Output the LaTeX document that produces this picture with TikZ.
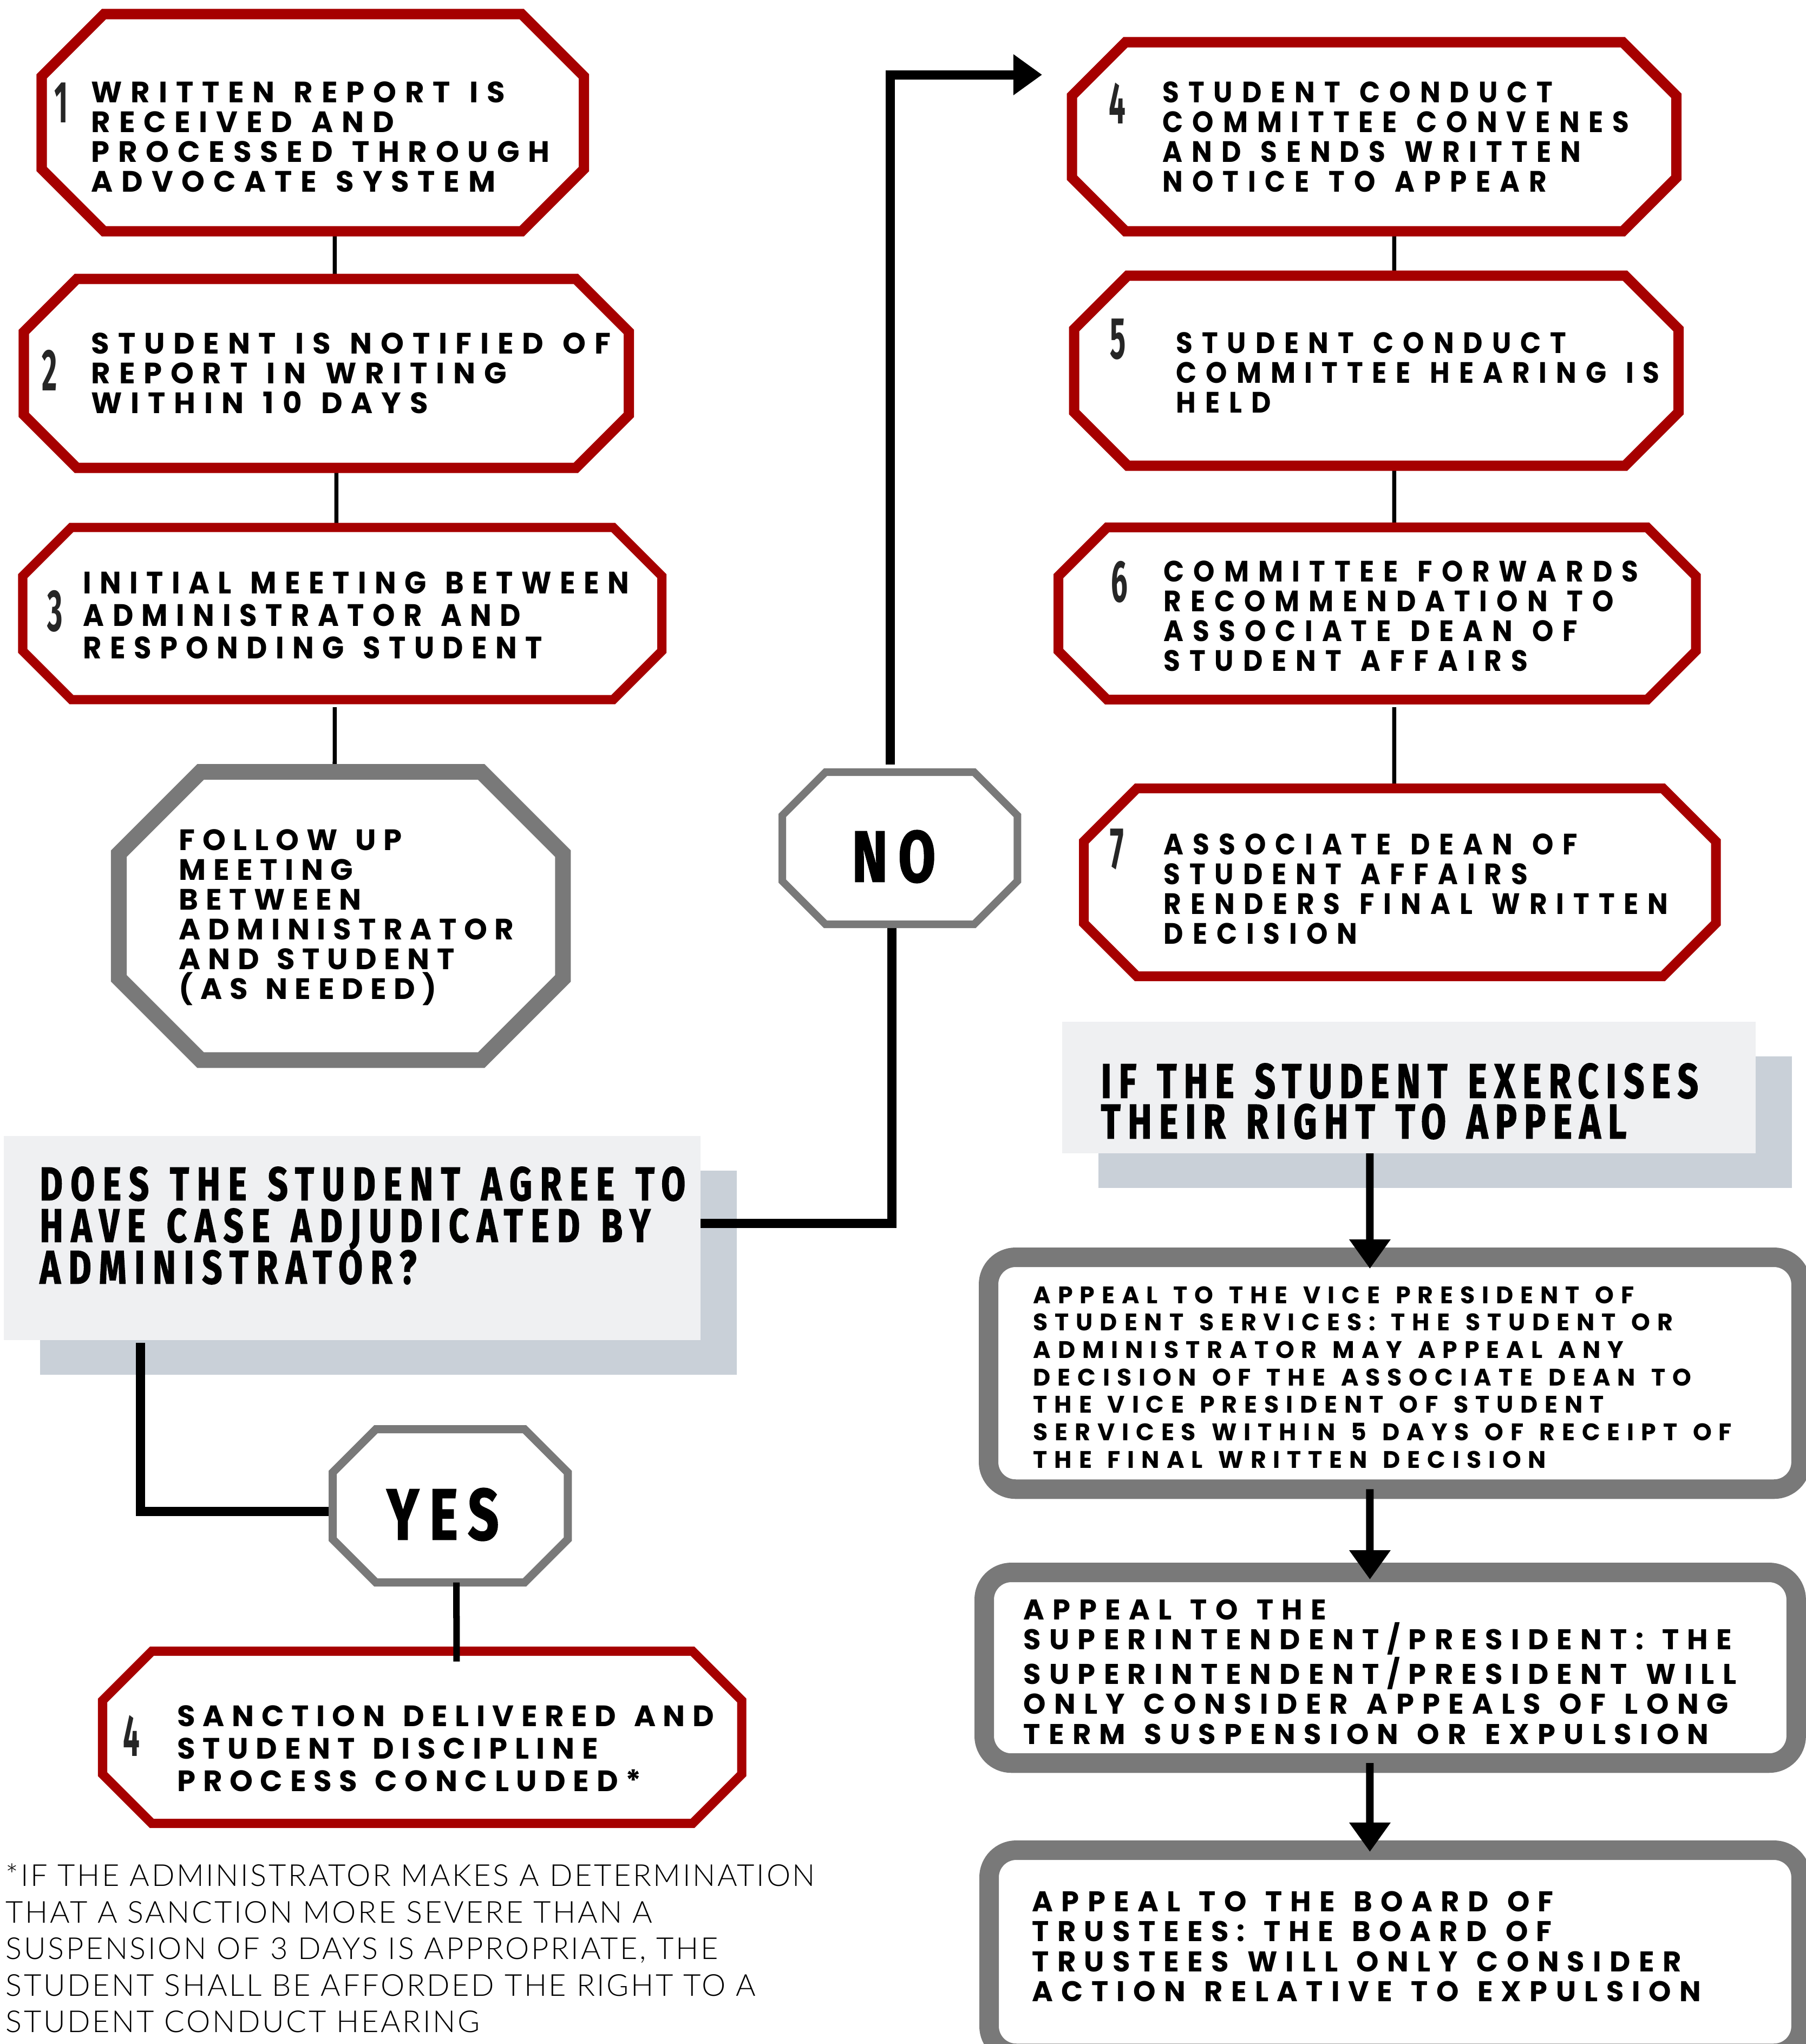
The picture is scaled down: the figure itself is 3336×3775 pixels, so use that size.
\documentclass[tikz,border=0pt]{standalone}
\usepackage{fontspec}
\usetikzlibrary{calc, arrows.meta, shadows}
\setmainfont{Poppins}
\newfontfamily\boxfont{Poppins}[LetterSpace=29, WordSpace=1.3]
\newfontfamily\narrowfont{Poppins}[FakeStretch=0.92, LetterSpace=31, WordSpace=1.3]
\newfontfamily\headfont{Fira Sans}[FakeStretch=0.74, FakeBold=1.6, LetterSpace=15, WordSpace=1.3]
\newfontfamily\numfont{Fira Sans}[FakeStretch=0.5]
\IfFontExistsTF{Lato Light}
  {\newfontfamily\notefont{Lato Light}[LetterSpace=6.5]}
  {\newfontfamily\notefont{Lato}[LetterSpace=6.5]}

\definecolor{stepred}{HTML}{A60000}
\definecolor{stepgray}{HTML}{797979}
\definecolor{qfill}{HTML}{EFF0F2}
\definecolor{qshade}{HTML}{C9D0D8}
\definecolor{numgray}{HTML}{262626}

% chamfered outline round a frame node: node, chamfer, style
\newcommand{\octline}[3]{%
  \draw[#3] ($(#1.north west)+(#2,0)$) -- ($(#1.north east)+(-#2,0)$)
    -- ($(#1.north east)+(0,#2)$) -- ($(#1.south east)+(0,-#2)$)
    -- ($(#1.south east)+(-#2,0)$) -- ($(#1.south west)+(#2,0)$)
    -- ($(#1.south west)+(0,-#2)$) -- ($(#1.north west)+(0,#2)$) -- cycle;}

\begin{document}
\begin{tikzpicture}[x=0.01cm, y=-0.01cm]

    % Setup the styles
    \tikzset{frame/.style={inner sep=0, outer sep=0, anchor=north west},
             redline/.style={draw=stepred, fill=white, line width=0.19cm, line join=miter},
             grayline/.style={draw=stepgray, fill=white, line join=miter},
             qbox/.style={frame, fill=qfill,
                          general shadow={fill=qshade, shadow xshift=.67cm, shadow yshift=-.64cm}},
             appeal/.style={frame, draw=stepgray, line width=0.36cm, rounded corners=0.5cm},
             link/.style={line width=0.075cm},
             bold link/.style={line width=0.17cm},
             arrow link/.style={line width=0.14cm, -{Triangle[length=0.54cm, width=0.73cm]}},
             steptext/.style={inner sep=0, anchor=north west, align=left,
                              font={\boxfont\bfseries\fontsize{15.5}{15.65}\selectfont}},
             righttext/.style={steptext, font={\narrowfont\bfseries\fontsize{15.5}{15.65}\selectfont}},
             appealtext/.style={steptext, font={\boxfont\bfseries\fontsize{15}{15.8}\selectfont}},
             headtext/.style={steptext, font={\headfont\bfseries\fontsize{24.8}{21.9}\selectfont}},
             answer/.style={inner sep=0, font={\headfont\bfseries\fontsize{38}{38}\selectfont}},
             stepnum/.style={inner sep=0, anchor=north west, text=numgray,
                             font={\numfont\bfseries\fontsize{31}{31}\selectfont}}}

    \useasboundingbox (0,0) rectangle (3336,3775);

    % Frames of the boxes
    \node[frame, minimum width=10.01cm, minimum height=4.01cm] at (77,26)     (s1)   {};
    \node[frame, minimum width=11.17cm, minimum height=3.49cm] at (44,515)    (s2)   {};
    \node[frame, minimum width=11.80cm, minimum height=3.18cm] at (42,974)    (s3)   {};
    \node[frame, minimum width=8.20cm,  minimum height=5.32cm] at (219.5,1425.5) (follow) {};
    \node[frame, minimum width=4.34cm,  minimum height=2.81cm] at (1445,1426) (no)   {};
    \node[frame, minimum width=4.34cm,  minimum height=2.83cm] at (614.5,2639.5) (yes) {};
    \node[frame, minimum width=11.80cm, minimum height=3.18cm] at (189.5,3049.5) (sanction) {};
    \node[frame, minimum width=11.16cm, minimum height=3.49cm] at (1980,78)   (s4)   {};
    \node[frame, minimum width=11.16cm, minimum height=3.51cm] at (1984,509)  (s5)   {};
    \node[frame, minimum width=11.77cm, minimum height=3.18cm] at (1955,974)  (s6)   {};
    \node[frame, minimum width=11.67cm, minimum height=3.47cm] at (2002,1456) (s7)   {};

    % Question and appeal boxes
    \node[qbox, minimum width=12.86cm, minimum height=3.77cm] at (7,2098)    (agree)  {};
    \node[qbox, minimum width=12.80cm, minimum height=2.43cm] at (1962,1887) (right)  {};
    \node[appeal, minimum width=15.00cm, minimum height=4.28cm] at (1826,2322) (vp)    {};
    \node[appeal, minimum width=14.99cm, minimum height=3.52cm] at (1818,2904) (super) {};
    \node[appeal, minimum width=14.99cm, minimum height=3.75cm] at (1827,3417) (board) {};

    % Connect the boxes
    \draw[link] ([xshift=.405cm]s1.south) -- ([xshift=.155cm]s2.north);
    \draw[link] ([xshift=.185cm]s2.south) -- ([xshift=-.11cm]s3.north);
    \draw[link, shorten <=.14cm] ([xshift=-.14cm]s3.south) -- ([xshift=-.115cm]follow.north);
    \draw[link] ([xshift=.37cm]s4.south) -- ([xshift=.33cm]s5.north);
    \draw[link] ([xshift=.33cm]s5.south) -- ([xshift=.315cm]s6.north);
    \draw[link, shorten <=.14cm] ([xshift=.315cm]s6.south) -- ([xshift=-.105cm]s7.north);

    \draw[bold link] ([yshift=.275cm]agree.east) -| ([xshift=-.15cm]no.south);
    \draw[bold link, shorten <=.14cm, -{Triangle[length=0.53cm, width=0.72cm]}]
        ([xshift=-.18cm]no.north) |- ([xshift=-.55cm, yshift=1.145cm]s4.west);
    \draw[bold link] ([xshift=-3.91cm, yshift=-.05cm]agree.south) |- ([yshift=-.1cm]yes.west);

    % Outlines
    \octline{s1}{115}{redline}
    \octline{s2}{98}{redline}
    \octline{s3}{90}{redline, line width=0.17cm}
    \octline{follow}{151}{grayline, line width=0.29cm}
    \octline{no}{80}{grayline, line width=0.14cm}
    \octline{yes}{80}{grayline, line width=0.15cm}
    \octline{sanction}{91}{redline, line width=0.17cm}
    \octline{s4}{99}{redline}
    \octline{s5}{99}{redline}
    \octline{s6}{90}{redline, line width=0.18cm}
    \octline{s7}{98}{redline, line width=0.18cm}

    \draw[link, line width=0.12cm] ([xshift=.115cm]yes.south) -- ([xshift=.635cm, yshift=-.19cm]sanction.north);
    \draw[arrow link] ([xshift=-.72cm]right.south) -- ([xshift=-.46cm, yshift=-.21cm]vp.north);
    \draw[arrow link] ([xshift=-.46cm]vp.south) -- ([xshift=-.375cm, yshift=-.13cm]super.north);
    \draw[arrow link] ([xshift=-.375cm]super.south) -- ([xshift=-.465cm, yshift=-.03cm]board.north);

    % Numbers
    \node[stepnum] at (100,152)  (n1) {1};
    \node[stepnum] at (77,646)   (n2) {2};
    \node[stepnum] at (87,1090)  (n3) {3};
    \node[stepnum] at (227,3167) (n4a) {4};
    \node[stepnum] at (2048,152) (n4) {4};
    \node[stepnum] at (2050,588) (n5) {5};
    \node[stepnum] at (2052,1036) (n6) {6};
    \node[stepnum] at (2050,1530) (n7) {7};

    % Texts
    \node[steptext] at (168,150) (t1) {WRITTEN REPORT IS\\RECEIVED AND\\PROCESSED THROUGH\\ADVOCATE SYSTEM};
    \node[steptext] at (168,614) (t2) {STUDENT IS NOTIFIED OF\\REPORT IN WRITING\\WITHIN 10 DAYS};
    \node[righttext, font={\narrowfont\bfseries\fontsize{16.3}{17.07}\selectfont\addfontfeatures{LetterSpace=27}}]
        at (153,1055) (t3) {INITIAL MEETING BETWEEN\\ADMINISTRATOR AND\\RESPONDING STUDENT};
    \node[steptext, font={\boxfont\bfseries\fontsize{15.5}{15.65}\selectfont\addfontfeatures{LetterSpace=25}}]
        at (330,1531) (tf) {FOLLOW UP\\MEETING\\BETWEEN\\ADMINISTRATOR\\AND STUDENT\\(AS NEEDED)};
    \node[steptext, font={\boxfont\bfseries\fontsize{15.5}{17.07}\selectfont\addfontfeatures{LetterSpace=25}}]
        at (327,3149) (tsan) {SANCTION DELIVERED AND\\STUDENT DISCIPLINE\\PROCESS CONCLUDED*};
    \node[headtext, font={\headfont\bfseries\fontsize{24.8}{21.9}\selectfont\addfontfeatures{LetterSpace=17}}]
        at (73,2154) (tq) {DOES THE STUDENT AGREE TO\\HAVE CASE ADJUDICATED BY\\ADMINISTRATOR?};
    \node[answer] at (1651,1582) (tno) {NO};
    \node[answer] at (818,2797) (tyes) {YES};
    \node[inner sep=0, anchor=north west, align=left,
          font={\notefont\fontsize{15.9}{19.2}\selectfont}] at (10,3441) (tnote)
        {*IF THE ADMINISTRATOR MAKES A DETERMINATION\\THAT A SANCTION MORE SEVERE THAN A\\SUSPENSION OF 3 DAYS IS APPROPRIATE, THE\\STUDENT SHALL BE AFFORDED THE RIGHT TO A\\STUDENT CONDUCT HEARING};

    \node[righttext] at (2147,150)  (t4) {STUDENT CONDUCT\\COMMITTEE CONVENES\\AND SENDS WRITTEN\\NOTICE TO APPEAR};
    \node[righttext] at (2172,613)  (t5) {STUDENT CONDUCT\\COMMITTEE HEARING IS\\HELD};
    \node[righttext] at (2149,1035) (t6) {COMMITTEE FORWARDS\\RECOMMENDATION TO\\ASSOCIATE DEAN OF\\STUDENT AFFAIRS};
    \node[righttext] at (2149,1539) (t7) {ASSOCIATE DEAN OF\\STUDENT AFFAIRS\\RENDERS FINAL WRITTEN\\DECISION};
    \node[headtext, font={\headfont\bfseries\fontsize{25.6}{21.3}\selectfont}] at (2033,1963) (thead)
        {IF THE STUDENT EXERCISES\\THEIR RIGHT TO APPEAL};

    \node[appealtext, font={\boxfont\bfseries\fontsize{12.6}{14.4}\selectfont}]
        at (1908,2375) (tvp)
        {APPEAL TO THE VICE PRESIDENT OF\\STUDENT SERVICES: THE STUDENT OR\\ADMINISTRATOR MAY APPEAL ANY\\DECISION OF THE ASSOCIATE DEAN TO\\THE VICE PRESIDENT OF STUDENT\\SERVICES WITHIN 5 DAYS OF RECEIPT OF\\THE FINAL WRITTEN DECISION};
    \node[appealtext] at (1890,2953) (tsuper)
        {APPEAL TO THE\\SUPERINTENDENT/PRESIDENT: THE\\SUPERINTENDENT/PRESIDENT WILL\\ONLY CONSIDER APPEALS OF LONG\\TERM SUSPENSION OR EXPULSION};
    \node[appealtext] at (1906,3492) (tboard)
        {APPEAL TO THE BOARD OF\\TRUSTEES: THE BOARD OF\\TRUSTEES WILL ONLY CONSIDER\\ACTION RELATIVE TO EXPULSION};

\end{tikzpicture}
\end{document}
